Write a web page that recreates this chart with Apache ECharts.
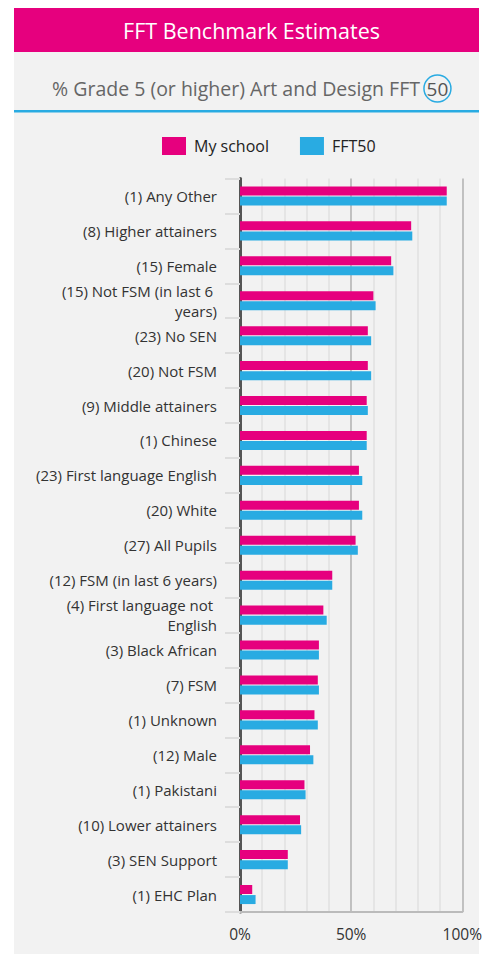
<!DOCTYPE html>
<html>
<head>
<meta charset="utf-8">
<script src="https://cdn.jsdelivr.net/npm/echarts@6/dist/echarts.min.js"></script>
<style>
  html, body { margin: 0; padding: 0; background: #ffffff; }
  #chart { width: 485px; height: 954px; }
</style>
</head>
<body>
<div id="chart"></div>
<script>
// categories, top to bottom
var categories = [
    '(1) Any Other',
    '(8) Higher attainers',
    '(15) Female',
    '(15) Not FSM (in last 6 years)',
    '(23) No SEN',
    '(20) Not FSM',
    '(9) Middle attainers',
    '(1) Chinese',
    '(23) First language English',
    '(20) White',
    '(27) All Pupils',
    '(12) FSM (in last 6 years)',
    '(4) First language not English',
    '(3) Black African',
    '(7) FSM',
    '(1) Unknown',
    '(12) Male',
    '(1) Pakistani',
    '(10) Lower attainers',
    '(3) SEN Support',
    '(1) EHC Plan'
];
var mySchool = [93, 77, 68, 60, 57.5, 57.5, 57, 57, 53.5, 53.5, 52, 41.5, 37.5, 35.5, 35, 33.5, 31.5, 29, 27, 21.5, 5.5];
var fft50 = [93, 77.5, 69, 61, 59, 59, 57.5, 57, 55, 55, 53, 41.5, 39, 35.5, 35.5, 35, 33, 29.5, 27.5, 21.5, 7];
var xTicks = [0, 50, 100];

var pink = '#e6007e';
var blue = '#29abe2';
var font = 'Open Sans';

var myChart = echarts.init(document.getElementById('chart'), null, { renderer: 'svg' });

var option = {
    backgroundColor: '#ffffff',
    textStyle: { fontFamily: font },
    graphic: [
        // panel
        { type: 'rect', z: -10, shape: { x: 14, y: 8, width: 465, height: 946 }, style: { fill: '#f2f2f2' } },
        // header bar
        { type: 'rect', z: -9, shape: { x: 14, y: 8, width: 465, height: 44 }, style: { fill: pink } },
        // blue rule under subtitle
        { type: 'rect', z: -9, shape: { x: 14, y: 110, width: 465, height: 2.5 }, style: { fill: blue } }
    ],
    title: [{
        text: 'FFT Benchmark Estimates',
        left: 246.5,
        top: 14,
        textAlign: 'center',
        textStyle: { color: '#ffffff', fontSize: 21.5, fontWeight: 'normal', fontFamily: font }
    }, {
        text: '% Grade 5 (or higher) Art and Design FFT{s| }{c|50}',
        left: 246.5,
        top: 70,
        textAlign: 'center',
        textStyle: {
            color: '#666666', fontSize: 19.5, fontWeight: 'normal', fontFamily: font,
            rich: {
                s: { width: 4, fontSize: 4 },
                c: {
                    color: '#555555', fontSize: 19, fontFamily: font,
                    width: 27, height: 27, lineHeight: 27, align: 'center',
                    borderColor: blue, borderWidth: 1.5, borderRadius: 14
                }
            }
        }
    }],
    legend: {
        left: 162,
        top: 137,
        padding: 0,
        itemWidth: 24,
        itemHeight: 18,
        itemGap: 31,
        icon: 'rect',
        textStyle: { fontSize: 16, color: '#222222', fontFamily: font, padding: [0, 0, 0, 3] },
        data: ['My school', 'FFT50']
    },
    grid: { left: 240, right: 21, top: 178.5, bottom: 42, containLabel: false },
    xAxis: {
        type: 'value',
        min: 0,
        max: 100,
        interval: 10,
        axisLine: { show: true, lineStyle: { color: '#bbbbbb', width: 2 } },
        axisTick: { show: false },
        axisLabel: {
            margin: 14,
            fontSize: 15.5,
            color: '#333333',
            fontFamily: font,
            formatter: function(v) { return xTicks.indexOf(v) >= 0 ? v + '%' : ''; }
        },
        splitLine: {
            show: true,
            lineStyle: { color: ['#bbbbbb', '#e4e4e4', '#e4e4e4', '#e4e4e4', '#e4e4e4'], width: 1.8 }
        }
    },
    yAxis: {
        type: 'category',
        inverse: true,
        data: categories,
        axisLine: { show: true, lineStyle: { color: '#555555', width: 3 } },
        axisTick: { show: true, length: 15, lineStyle: { color: '#dddddd', width: 2 } },
        axisLabel: {
            margin: 23,
            fontSize: 15,
            lineHeight: 20.5,
            color: '#333333',
            fontFamily: font,
            width: 188,
            overflow: 'break',
            align: 'right'
        }
    },
    series: [{
        name: 'My school',
        type: 'bar',
        data: mySchool,
        barWidth: 9,
        barGap: '12%',
        itemStyle: { color: pink }
    }, {
        name: 'FFT50',
        type: 'bar',
        data: fft50,
        barWidth: 9,
        itemStyle: { color: blue }
    }]
};
myChart.setOption(option);
</script>
</body>
</html>
